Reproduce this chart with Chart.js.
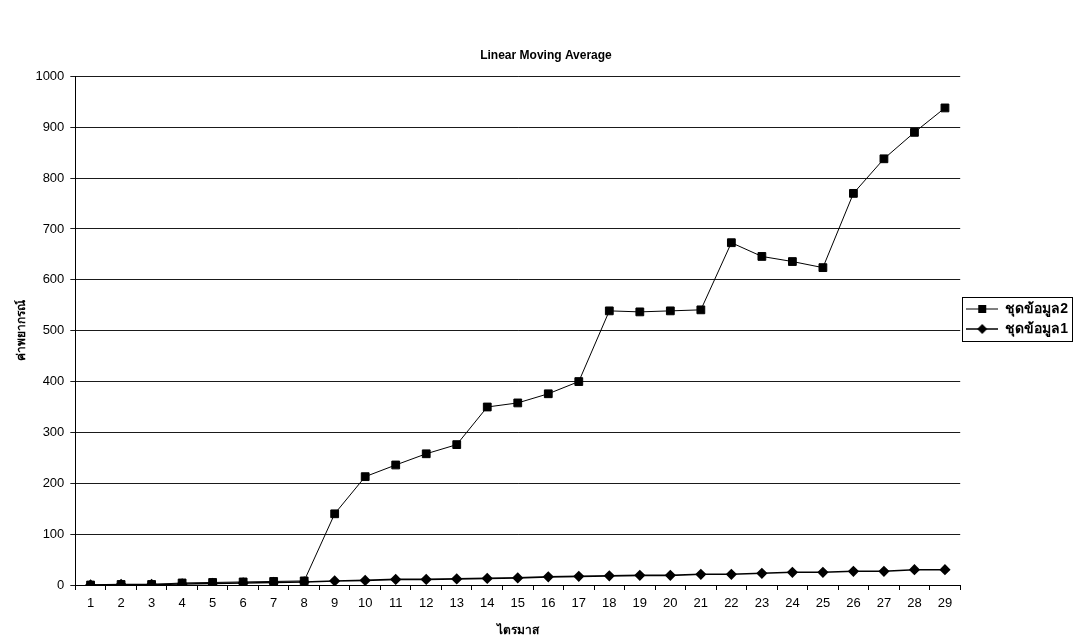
<!DOCTYPE html>
<html>
<head>
<meta charset="utf-8">
<title>Linear Moving Average</title>
<script src="https://cdn.jsdelivr.net/npm/chart.js@4"></script>
<style>
    html, body { margin: 0; padding: 0; background: #fff; }
    #wrap { width: 1078px; height: 640px; }
</style>
</head>
<body>
<div id="wrap"><canvas id="movingAvgChart"></canvas></div>
<script>
// 데이터
const quarters = ['1','2','3','4','5','6','7','8','9','10','11','12','13','14','15',
                  '16','17','18','19','20','21','22','23','24','25','26','27','28','29'];
const series1 = [0, 1, 1, 2, 3, 4, 5, 6, 8, 9, 11, 11, 12, 13, 14,
                 16, 17, 18, 19, 19, 21, 21, 23, 25, 25, 27, 27, 30, 30];
const series2 = [0, 1, 1, 4, 5, 6, 7, 8, 140, 213, 236, 258, 276, 350, 358,
                 376, 400, 539, 537, 539, 541, 673, 646, 636, 624, 770, 838, 890, 938];
const yTicks = [0, 100, 200, 300, 400, 500, 600, 700, 800, 900, 1000];

// 범례용 아이콘 (선 + 마커)
function legendIcon(shape) {
    const c = document.createElement('canvas');
    c.width = 32; c.height = 10;
    const g = c.getContext('2d');
    g.strokeStyle = '#000';
    g.lineWidth = shape === 'diamond' ? 1.5 : 1;
    g.beginPath(); g.moveTo(0, 5); g.lineTo(32, 5); g.stroke();
    g.fillStyle = '#000';
    if (shape === 'square') {
        g.fillRect(12, 1, 8, 8);
    } else {
        g.beginPath();
        g.moveTo(16, 0); g.lineTo(21, 5); g.lineTo(16, 10); g.lineTo(11, 5);
        g.closePath(); g.fill();
    }
    return c;
}

// 범례 테두리
const legendBorder = {
    id: 'legendBorder',
    afterDraw(chart) {
        const boxes = chart.legend && chart.legend.legendHitBoxes;
        if (!boxes || !boxes.length) return;
        let l = Infinity, t = Infinity, r = -Infinity, b = -Infinity;
        boxes.forEach(h => {
            l = Math.min(l, h.left); t = Math.min(t, h.top);
            r = Math.max(r, h.left + h.width); b = Math.max(b, h.top + h.height);
        });
        const ctx = chart.ctx;
        ctx.save();
        ctx.strokeStyle = '#000';
        ctx.lineWidth = 1;
        ctx.strokeRect(Math.round(l - 4) + 0.5, Math.round(t - 5) + 0.5, Math.round(r - l + 8), Math.round(b - t + 10));
        ctx.restore();
    }
};

document.addEventListener('DOMContentLoaded', function() {
    Chart.defaults.font.family = '"Liberation Sans", Arial, sans-serif';
    Chart.defaults.font.size = 13;
    Chart.defaults.color = '#000';

    const ctx = document.getElementById('movingAvgChart').getContext('2d');
    const icons = { 'ชุดข้อมูล1': legendIcon('diamond'), 'ชุดข้อมูล2': legendIcon('square') };

    new Chart(ctx, {
        type: 'line',
        data: {
            labels: quarters,
            datasets: [
                {
                    label: 'ชุดข้อมูล1',
                    data: series1,
                    borderColor: '#000',
                    backgroundColor: '#000',
                    borderWidth: 1.6,
                    pointStyle: 'rectRot',
                    pointRadius: 4.5,
                    pointHoverRadius: 4.5,
                    tension: 0
                },
                {
                    label: 'ชุดข้อมูล2',
                    data: series2,
                    borderColor: '#000',
                    backgroundColor: '#000',
                    borderWidth: 1,
                    pointStyle: 'rect',
                    pointRadius: 5.5,
                    pointHoverRadius: 5.5,
                    tension: 0
                }
            ]
        },
        options: {
            responsive: true,
            maintainAspectRatio: false,
            animation: false,
            layout: { padding: { left: 14, right: 0, top: 0, bottom: 2 } },
            scales: {
                x: {
                    offset: true,
                    grid: { offset: true, drawOnChartArea: false, drawTicks: true, tickLength: 5, color: '#000' },
                    border: { color: '#000', width: 1 },
                    ticks: { maxRotation: 0, autoSkip: false, padding: 6 },
                    title: {
                        display: true,
                        text: 'ไตรมาส',
                        font: { weight: 'bold', size: 12 },
                        padding: { top: 6, bottom: 0 }
                    }
                },
                y: {
                    min: 0,
                    max: 1000,
                    afterBuildTicks(scale) { scale.ticks = yTicks.map(v => ({ value: v })); },
                    grid: { color: '#1a1a1a', tickLength: 5 },
                    border: { color: '#000', width: 1 },
                    ticks: { padding: 6, callback: v => String(v) },
                    title: {
                        display: true,
                        text: 'ค่าพยากรณ์',
                        font: { weight: 'bold', size: 12 },
                        padding: { top: 0, bottom: 1 }
                    }
                }
            },
            plugins: {
                title: {
                    display: true,
                    text: 'Linear Moving Average',
                    font: { weight: 'bold', size: 12 },
                    padding: { top: 48, bottom: 14 }
                },
                legend: {
                    position: 'right',
                    reverse: true,
                    labels: {
                        usePointStyle: true,
                        pointStyleWidth: 32,
                        boxHeight: 10,
                        padding: 6,
                        font: { size: 14, weight: 'bold' },
                        generateLabels(chart) {
                            const items = Chart.defaults.plugins.legend.labels.generateLabels(chart);
                            items.forEach(it => { it.pointStyle = icons[it.text]; });
                            return items;
                        }
                    }
                },
                tooltip: { enabled: false }
            }
        },
        plugins: [legendBorder]
    });
});
</script>
</body>
</html>
